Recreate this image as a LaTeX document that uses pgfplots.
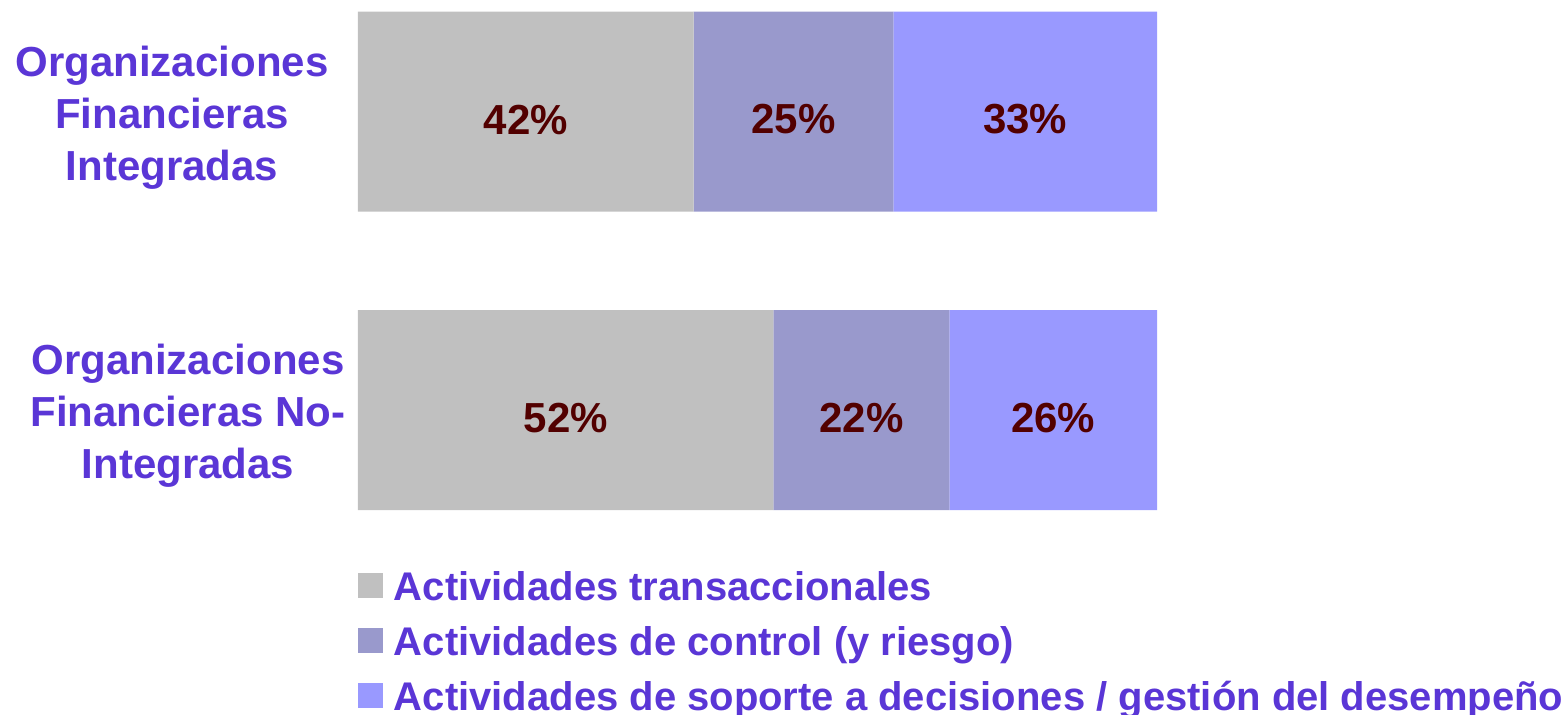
\documentclass[border=0pt]{standalone}
\usepackage{fontspec}
\setmainfont{Liberation Sans}
\usepackage{pgfplots}
\usepackage{pgfplotstable}
\pgfplotsset{compat=1.18}
\definecolor{gTrans}{HTML}{C0C0C0}
\definecolor{gCtrl}{HTML}{9999CC}
\definecolor{gSup}{HTML}{9999FF}
\definecolor{txtblue}{HTML}{5A36D6}
\definecolor{valred}{HTML}{520000}
\pgfplotstableread{
y trans ctrl sup
0 52 22 26
1 42 25 33
}\data
\begin{document}
\begin{tikzpicture}
\path[use as bounding box] (-179pt,-102pt) rectangle (602pt,255pt);
\begin{axis}[
  at={(0,0)}, anchor=south west, scale only axis,
  width=399.5pt, height=249.25pt,
  xbar stacked, bar width=100pt,
  xmin=0, xmax=100, ymin=-0.335, ymax=1.335,
  hide axis, clip=false,
  legend cell align=left,
  legend image code/.code={\fill[#1] (0pt,-4pt) rectangle (12.5pt,8.5pt);},
  legend style={at={(0,0)}, anchor=north west, yshift=-30pt, draw=none, fill=none,
    inner sep=0pt, outer sep=0pt, row sep=7.5pt,
    font=\fontsize{20}{24}\selectfont\bfseries, text=txtblue,
    nodes={inner sep=0pt, text height=15pt, text depth=5pt},
    /tikz/every odd column/.append style={column sep=5.5pt}},
]
\addplot[fill=gTrans, draw=none] table[x=trans, y=y] {\data};
\addlegendentry{Actividades transaccionales}
\addplot[fill=gCtrl, draw=none] table[x=ctrl, y=y] {\data};
\addlegendentry{Actividades de control (y riesgo)}
\addplot[fill=gSup, draw=none] table[x=sup, y=y] {\data};
\addlegendentry{Actividades de soporte a decisiones / gestión del desempeño}
\node[align=center, font=\fontsize{21}{26}\selectfont\bfseries, text=txtblue]
  at (axis cs:0,1) [xshift=-93pt, yshift=-3pt] {Organizaciones\\Financieras\\Integradas};
\node[align=center, font=\fontsize{21}{26}\selectfont\bfseries, text=txtblue]
  at (axis cs:0,0) [xshift=-85pt, yshift=-3pt] {Organizaciones\\Financieras No-\\Integradas};
\end{axis}
\begin{axis}[
  at={(0,0)}, anchor=south west, scale only axis,
  width=399.5pt, height=249.25pt,
  xmin=0, xmax=100, ymin=-0.335, ymax=1.335,
  hide axis, clip=false,
  /pgf/number format/assume math mode=true,
  nodes near coords={\pgfmathprintnumber{\pgfplotspointmeta}\%},
  nodes near coords style={anchor=center, yshift=-4pt, font=\fontsize{21}{25}\selectfont\bfseries, text=valred},
]
\addplot[only marks, mark=text, text mark={}, point meta=explicit]
  table[x expr=\thisrow{trans}/2, y=y, meta=trans] {\data};
\addplot[only marks, mark=text, text mark={}, point meta=explicit]
  table[x expr=\thisrow{trans}+\thisrow{ctrl}/2, y=y, meta=ctrl] {\data};
\addplot[only marks, mark=text, text mark={}, point meta=explicit]
  table[x expr=\thisrow{trans}+\thisrow{ctrl}+\thisrow{sup}/2, y=y, meta=sup] {\data};
\end{axis}
\end{tikzpicture}
\end{document}
